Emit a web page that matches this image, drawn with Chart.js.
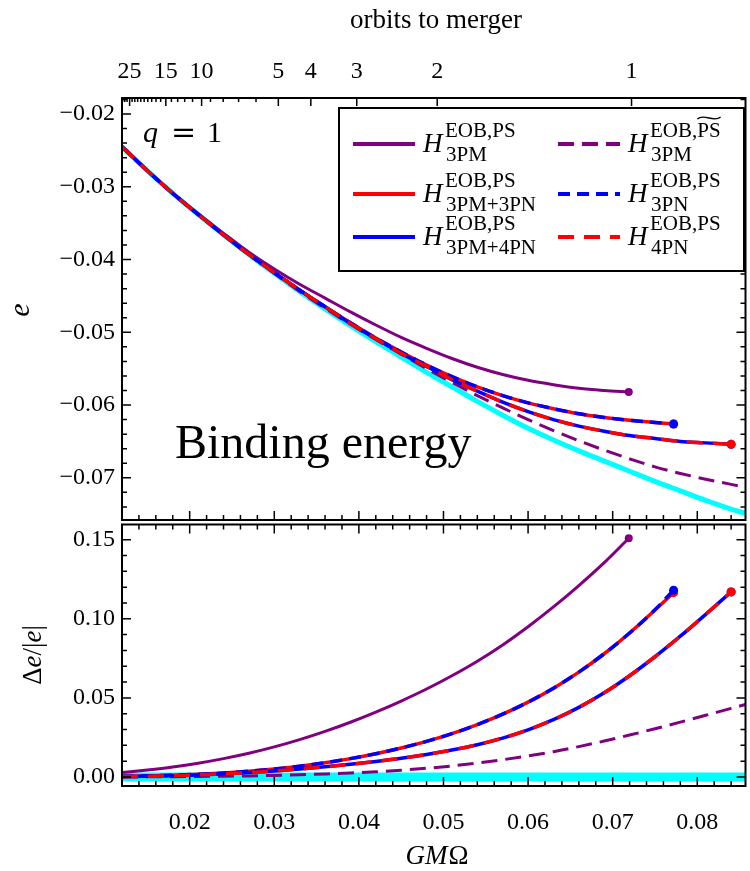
<!DOCTYPE html>
<html>
<head>
<meta charset="utf-8">
<script src="https://cdn.jsdelivr.net/npm/chart.js@4.4.1/dist/chart.umd.min.js"></script>
<style>
  body { margin: 0; background: #fff; }
  #wrap { position: relative; width: 750px; height: 871px; }
  #topChart { position: absolute; left: 0; top: 0; }
  #botChart { position: absolute; left: 0; top: 520px; }
</style>
</head>
<body>
<div id="wrap">
  <canvas id="topChart" width="750" height="540"></canvas>
  <canvas id="botChart" width="750" height="351"></canvas>
</div>
<script>
// GM*Omega sample points for each curve
const omegaFull = [0.012, 0.015, 0.018, 0.021, 0.024, 0.027, 0.030, 0.033, 0.036, 0.039, 0.042, 0.045, 0.048,
  0.051, 0.054, 0.057, 0.060, 0.063, 0.066, 0.069, 0.072, 0.075, 0.078, 0.081, 0.084, 0.0857];
const omega3PM = [0.012, 0.015, 0.018, 0.021, 0.024, 0.027, 0.030, 0.033, 0.036, 0.039, 0.042, 0.045, 0.048,
  0.051, 0.054, 0.057, 0.060, 0.063, 0.066, 0.069, 0.0719];
const omega3PN = [0.012, 0.015, 0.018, 0.021, 0.024, 0.027, 0.030, 0.033, 0.036, 0.039, 0.042, 0.045, 0.048,
  0.051, 0.054, 0.057, 0.060, 0.063, 0.066, 0.069, 0.072, 0.075, 0.0772];
const omega4PN = [0.012, 0.015, 0.018, 0.021, 0.024, 0.027, 0.030, 0.033, 0.036, 0.039, 0.042, 0.045, 0.048,
  0.051, 0.054, 0.057, 0.060, 0.063, 0.066, 0.069, 0.072, 0.075, 0.078, 0.081, 0.084];

// binding energy e (top panel)
const eRef = [-0.0245, -0.0278, -0.0309, -0.0338, -0.0366, -0.0393, -0.0419, -0.0444, -0.0468, -0.0491, -0.0513, -0.0534, -0.0555,
  -0.0575, -0.0595, -0.0614, -0.0632, -0.0648, -0.0663, -0.0677, -0.0691, -0.0705, -0.0718, -0.0731, -0.0743, -0.0749];
const e3PMtilde = [-0.0245, -0.0278, -0.0309, -0.0338, -0.0366, -0.0393, -0.0419, -0.0444, -0.0467, -0.0489, -0.0510, -0.0530, -0.0550,
  -0.0569, -0.0587, -0.0604, -0.0620, -0.0635, -0.0649, -0.0662, -0.0674, -0.0685, -0.0694, -0.0702, -0.0709, -0.0713];
const e3PM = [-0.0245, -0.0278, -0.0309, -0.0337, -0.0364, -0.0390, -0.0413, -0.0434, -0.0453, -0.0472, -0.0490, -0.0507, -0.0522,
  -0.0536, -0.0548, -0.0558, -0.0566, -0.0572, -0.0577, -0.0580, -0.0582];
const e3PM3PN = [-0.0245, -0.0278, -0.0309, -0.0338, -0.0366, -0.0393, -0.0418, -0.0442, -0.0465, -0.0487, -0.0508, -0.0527, -0.0545,
  -0.0561, -0.0575, -0.0587, -0.0597, -0.0605, -0.0612, -0.0617, -0.0621, -0.0624, -0.0626];
const e3PN = [-0.0245, -0.0278, -0.0309, -0.0338, -0.0366, -0.0393, -0.0418, -0.0442, -0.0465, -0.0487, -0.0508, -0.0527, -0.0545,
  -0.0561, -0.0575, -0.0587, -0.0597, -0.0605, -0.0612, -0.0617, -0.0621, -0.0624, -0.0626];
const e3PM4PN = [-0.0245, -0.0278, -0.0309, -0.0338, -0.0366, -0.0393, -0.0418, -0.0442, -0.0465, -0.0488, -0.0509, -0.0529, -0.0547,
  -0.0565, -0.0581, -0.0596, -0.0609, -0.0620, -0.0629, -0.0636, -0.0642, -0.0646, -0.0650, -0.0652, -0.0654];
const e4PN = [-0.0245, -0.0278, -0.0309, -0.0338, -0.0366, -0.0393, -0.0418, -0.0442, -0.0465, -0.0488, -0.0509, -0.0529, -0.0547,
  -0.0565, -0.0581, -0.0596, -0.0609, -0.0620, -0.0629, -0.0636, -0.0642, -0.0646, -0.0650, -0.0652, -0.0654];

// relative difference de/|e| (bottom panel)
const dRef = [0, 0, 0, 0, 0, 0, 0, 0, 0, 0, 0, 0, 0, 0, 0, 0, 0, 0, 0, 0, 0, 0, 0, 0, 0, 0];
const d3PMtilde = [0.0000, 0.0001, 0.0002, 0.0003, 0.0005, 0.0007, 0.0010, 0.0014, 0.0019, 0.0025, 0.0033, 0.0043, 0.0055,
  0.0070, 0.0088, 0.0109, 0.0133, 0.0160, 0.0192, 0.0227, 0.0265, 0.0305, 0.0347, 0.0390, 0.0434, 0.0458];
const d3PM = [0.0028, 0.0044, 0.0063, 0.0087, 0.0116, 0.0150, 0.0190, 0.0236, 0.0288, 0.0346, 0.0410, 0.0480, 0.0556,
  0.0640, 0.0732, 0.0835, 0.0950, 0.1075, 0.1210, 0.1355, 0.1509];
const d3PM3PN = [0.0004, 0.0007, 0.0011, 0.0017, 0.0025, 0.0036, 0.0050, 0.0068, 0.0090, 0.0116, 0.0147, 0.0183, 0.0225,
  0.0274, 0.0331, 0.0397, 0.0473, 0.0561, 0.0663, 0.0779, 0.0910, 0.1055, 0.1165];
const d3PN = [0.0004, 0.0007, 0.0011, 0.0017, 0.0025, 0.0036, 0.0050, 0.0068, 0.0090, 0.0116, 0.0147, 0.0183, 0.0225,
  0.0274, 0.0331, 0.0397, 0.0473, 0.0561, 0.0663, 0.0779, 0.0910, 0.1057, 0.1181];
const d3PM4PN = [0.0002, 0.0004, 0.0008, 0.0013, 0.0020, 0.0028, 0.0038, 0.0050, 0.0064, 0.0080, 0.0098, 0.0118, 0.0142,
  0.0170, 0.0204, 0.0246, 0.0298, 0.0362, 0.0440, 0.0532, 0.0640, 0.0760, 0.0890, 0.1028, 0.1170];
const d4PN = [0.0002, 0.0004, 0.0008, 0.0013, 0.0020, 0.0028, 0.0038, 0.0050, 0.0064, 0.0080, 0.0098, 0.0118, 0.0142,
  0.0170, 0.0204, 0.0246, 0.0298, 0.0362, 0.0440, 0.0532, 0.0640, 0.0760, 0.0890, 0.1028, 0.1170];

// axis ticks
const xTickVals = [0.02, 0.03, 0.04, 0.05, 0.06, 0.07, 0.08];
const yTopTicks = [-0.07, -0.06, -0.05, -0.04, -0.03, -0.02];
const yBotTicks = [0.00, 0.05, 0.10, 0.15];
const orbitLabels = ['25', '15', '10', '5', '4', '3', '2', '1'];
const orbitTicks = [0.0129, 0.01718, 0.02141, 0.03048, 0.03432, 0.03975, 0.04926, 0.07223];
const orbitMinor = [0.01207, 0.01233, 0.0126, 0.01319, 0.01351, 0.01385, 0.01422, 0.01462, 0.01505, 0.01551,
  0.01602, 0.01657, 0.01784, 0.01858, 0.01941, 0.02034, 0.02246, 0.02396, 0.02578, 0.02784];

// legend text
const legendSup = ['EOB,PS', 'EOB,PS', 'EOB,PS', 'EOB,PS', 'EOB,PS', 'EOB,PS'];
const legendSub = ['3PM', '3PM+3PN', '3PM+4PN', '3PM', '3PN', '4PN'];

const X_MIN = 0.012, X_MAX = 0.0857;
const FONT = '"Liberation Serif", "Times New Roman", serif';
const PURPLE = '#800080', RED = '#ff0000', BLUE = '#0000ff', CYAN = '#00ffff';

function pts(xs, ys) { return xs.map((x, i) => ({ x: x, y: ys[i] })); }
function endDot(r) { return c => (c.dataIndex === c.dataset.data.length - 1 ? r : 0); }
function fmt(v) { return (v < 0 ? '\u2212' : '') + Math.abs(v).toFixed(2); }

function makeDatasets(top) {
  const wRef = top ? 5 : 9;
  return [
    { data: pts(omega4PN, top ? e4PN : d4PN), borderColor: RED, borderDash: [16, 10], borderWidth: 3.5,
      pointRadius: endDot(4.5), order: 0, legendCol: 1, legendRow: 2, legendIdx: 5 },
    { data: pts(omega4PN, top ? e3PM4PN : d3PM4PN), borderColor: BLUE, borderWidth: 3.5,
      pointRadius: endDot(4.5), order: 1, legendCol: 0, legendRow: 2, legendIdx: 2 },
    { data: pts(omega3PN, top ? e3PN : d3PN), borderColor: BLUE, borderDash: [12, 7], borderWidth: 3.5,
      pointRadius: endDot(4.5), order: 2, legendCol: 1, legendRow: 1, legendIdx: 4 },
    { data: pts(omega3PN, top ? e3PM3PN : d3PM3PN), borderColor: RED, borderWidth: 3.5,
      pointRadius: endDot(4.5), order: 3, legendCol: 0, legendRow: 1, legendIdx: 1 },
    { data: pts(omega3PM, top ? e3PM : d3PM), borderColor: PURPLE, borderWidth: 3,
      pointRadius: endDot(4), order: 4, legendCol: 0, legendRow: 0, legendIdx: 0 },
    { data: pts(omegaFull, top ? e3PMtilde : d3PMtilde), borderColor: PURPLE, borderDash: [16, 8], borderWidth: 3,
      pointRadius: 0, order: 5, legendCol: 1, legendRow: 0, legendIdx: 3, tilde: true },
    { data: pts(omegaFull, top ? eRef : dRef), borderColor: CYAN, borderWidth: wRef,
      pointRadius: 0, order: 6 }
  ].map(ds => Object.assign(ds, {
    pointBackgroundColor: ds.borderColor, pointBorderWidth: 0, fill: false,
    cubicInterpolationMode: 'monotone'
  }));
}

// frame and inward ticks, Mathematica style
const framePlugin = {
  id: 'frame',
  afterDatasetsDraw(chart, args, o) {
    const { ctx, chartArea: a, scales } = chart;
    const xs = scales.x, ys = scales.y;
    ctx.save();
    ctx.strokeStyle = '#000';
    ctx.lineWidth = 1.5;
    ctx.beginPath();
    for (let k = 6; k <= 42; k++) {
      const px = xs.getPixelForValue(k * 0.002);
      const len = k % 5 === 0 ? 9 : 5;
      ctx.moveTo(px, a.bottom); ctx.lineTo(px, a.bottom - len);
      if (o.xTop) { ctx.moveTo(px, a.top); ctx.lineTo(px, a.top + len); }
    }
    for (let k = o.kFrom; k <= o.kTo; k++) {
      const py = ys.getPixelForValue(k * o.step);
      const len = k % 5 === 0 ? 9 : 5;
      ctx.moveTo(a.left, py); ctx.lineTo(a.left + len, py);
      ctx.moveTo(a.right, py); ctx.lineTo(a.right - len, py);
    }
    if (o.orbits) {
      orbitTicks.forEach(v => { const px = xs.getPixelForValue(v); ctx.moveTo(px, a.top); ctx.lineTo(px, a.top + 8); });
      orbitMinor.forEach(v => { const px = xs.getPixelForValue(v); ctx.moveTo(px, a.top); ctx.lineTo(px, a.top + 4); });
    }
    ctx.stroke();
    ctx.lineWidth = 2;
    ctx.strokeRect(a.left, a.top, a.right - a.left, a.bottom - a.top);
    ctx.restore();
  }
};

function drawParts(ctx, parts, x, y) {
  let cx = x;
  parts.forEach(p => {
    ctx.font = p.f;
    ctx.fillText(p.t, cx, y);
    cx += ctx.measureText(p.t).width + (p.gap || 0);
  });
}
function partsWidth(ctx, parts) {
  let w = 0;
  parts.forEach(p => { ctx.font = p.f; w += ctx.measureText(p.t).width + (p.gap || 0); });
  return w;
}
function drawRotated(ctx, parts, cx, cy) {
  ctx.save();
  ctx.translate(cx, cy);
  ctx.rotate(-Math.PI / 2);
  ctx.textBaseline = 'middle';
  drawParts(ctx, parts, -partsWidth(ctx, parts) / 2, 0);
  ctx.restore();
}

function drawLegend(chart) {
  const ctx = chart.ctx;
  const rows = [152, 202, 245];
  ctx.save();
  ctx.fillStyle = '#fff';
  ctx.fillRect(339, 108, 405, 163);
  ctx.strokeStyle = '#000';
  ctx.lineWidth = 2;
  ctx.strokeRect(339, 108, 405, 163);
  chart.data.datasets.forEach(ds => {
    if (ds.legendCol === undefined) return;
    const lx = ds.legendCol === 0 ? 353 : 558;
    const tx = ds.legendCol === 0 ? 423 : 628;
    const base = rows[ds.legendRow];
    ctx.beginPath();
    ctx.strokeStyle = ds.borderColor;
    ctx.lineWidth = 4;
    ctx.setLineDash(ds.borderDash || []);
    ctx.moveTo(lx, base - 8); ctx.lineTo(lx + 62, base - 8);
    ctx.stroke();
    ctx.setLineDash([]);
    ctx.fillStyle = '#000';
    ctx.textBaseline = 'alphabetic';
    ctx.font = 'italic 27px ' + FONT;
    ctx.fillText('H', tx, base);
    ctx.font = '21px ' + FONT;
    const sup = legendSup[ds.legendIdx];
    ctx.fillText(sup, tx + 22, base - 15);
    ctx.fillText(legendSub[ds.legendIdx], tx + 23, base + 9);
    if (ds.tilde) {
      const x0 = tx + 22 + ctx.measureText('EOB,').width;
      const w = ctx.measureText('PS').width;
      const y = base - 35;
      ctx.beginPath();
      ctx.lineWidth = 1.3;
      ctx.strokeStyle = '#000';
      ctx.moveTo(x0, y + 2);
      ctx.bezierCurveTo(x0 + w * 0.3, y - 4, x0 + w * 0.7, y + 6, x0 + w, y);
      ctx.stroke();
    }
  });
  ctx.restore();
}

const topText = {
  id: 'topText',
  afterDraw(chart) {
    const ctx = chart.ctx;
    ctx.save();
    ctx.fillStyle = '#000';
    ctx.textBaseline = 'middle';
    ctx.textAlign = 'center';
    ctx.font = '27px ' + FONT;
    ctx.fillText('orbits to merger', 436, 21);
    ctx.textAlign = 'left';
    ctx.textBaseline = 'alphabetic';
    ctx.font = '48px ' + FONT;
    ctx.fillText('Binding energy', 175, 458);
    ctx.font = 'italic 30px ' + FONT;
    ctx.fillText('q', 143, 142);
    ctx.font = '30px "DejaVu Serif", ' + FONT;
    ctx.fillText('=', 171, 142);
    ctx.font = '30px ' + FONT;
    ctx.fillText('1', 207, 142);
    drawRotated(ctx, [{ t: 'e', f: 'italic 30px ' + FONT }], 21, 310);
    ctx.restore();
    drawLegend(chart);
  }
};

const botText = {
  id: 'botText',
  afterDraw(chart) {
    const ctx = chart.ctx;
    ctx.save();
    ctx.fillStyle = '#000';
    const it = 'italic 27px ' + FONT, up = '27px ' + FONT;
    drawRotated(ctx, [{ t: '\u0394', f: up }, { t: 'e', f: it }, { t: '/|', f: up }, { t: 'e', f: it }, { t: '|', f: up }], 34, 135);
    ctx.textBaseline = 'middle';
    const parts = [{ t: 'G', f: it }, { t: 'M', f: it, gap: 1 }, { t: '\u03A9', f: up }];
    drawParts(ctx, parts, 437 - partsWidth(ctx, parts) / 2, 337);
    ctx.restore();
  }
};

function tickFont() { return { family: FONT, size: 24 }; }
function hiddenGrid() { return { display: false, drawTicks: false }; }
// fixed axis size, no extra room for overhanging labels
function fixSize(w, h) {
  return s => {
    if (w !== null) s.width = w;
    if (h !== null) s.height = h;
    s.paddingLeft = 0; s.paddingRight = 0; s.paddingTop = 0; s.paddingBottom = 0;
  };
}

function initTop() {
  new Chart(document.getElementById('topChart'), {
    type: 'line',
    data: { datasets: makeDatasets(true) },
    options: {
      responsive: false, animation: false, events: [], devicePixelRatio: 1,
      layout: { padding: { left: 0, right: 2, top: 0, bottom: 20 } },
      plugins: { legend: { display: false }, tooltip: { enabled: false },
        frame: { xTop: false, orbits: true, kFrom: -37, kTo: -9, step: 0.002 } },
      scales: {
        x: { type: 'linear', display: false, min: X_MIN, max: X_MAX },
        x2: {
          type: 'linear', position: 'top', min: X_MIN, max: X_MAX,
          grid: hiddenGrid(), border: { display: false },
          afterBuildTicks: s => { s.ticks = orbitTicks.map(v => ({ value: v })); },
          afterFit: fixSize(null, 98),
          ticks: { autoSkip: false, maxRotation: 0, minRotation: 0, padding: 12, color: '#000', font: tickFont(),
            callback: (v, i) => orbitLabels[i] }
        },
        y: {
          type: 'linear', min: -0.0758, max: -0.0178,
          grid: hiddenGrid(), border: { display: false },
          afterBuildTicks: s => { s.ticks = yTopTicks.map(v => ({ value: v })); },
          afterFit: fixSize(122, null),
          ticks: { autoSkip: false, padding: 7, color: '#000', font: tickFont(), callback: v => fmt(v) }
        }
      }
    },
    plugins: [framePlugin, topText]
  });
}

function initBottom() {
  new Chart(document.getElementById('botChart'), {
    type: 'line',
    data: { datasets: makeDatasets(false) },
    options: {
      responsive: false, animation: false, events: [], devicePixelRatio: 1,
      layout: { padding: { left: 0, right: 2, top: 3, bottom: 0 } },
      plugins: { legend: { display: false }, tooltip: { enabled: false },
        frame: { xTop: true, orbits: false, kFrom: 0, kTo: 15, step: 0.01 } },
      scales: {
        x: {
          type: 'linear', min: X_MIN, max: X_MAX,
          grid: hiddenGrid(), border: { display: false },
          afterBuildTicks: s => { s.ticks = xTickVals.map(v => ({ value: v })); },
          afterFit: fixSize(null, 85),
          ticks: { autoSkip: false, maxRotation: 0, minRotation: 0, padding: 22, color: '#000', font: tickFont(),
            callback: v => v.toFixed(2) }
        },
        y: {
          type: 'linear', min: -0.0057, max: 0.1596,
          grid: hiddenGrid(), border: { display: false },
          afterBuildTicks: s => { s.ticks = yBotTicks.map(v => ({ value: v })); },
          afterFit: fixSize(122, null),
          ticks: { autoSkip: false, padding: 7, color: '#000', font: tickFont(), callback: v => fmt(v) }
        }
      }
    },
    plugins: [framePlugin, botText]
  });
}

window.addEventListener('DOMContentLoaded', () => {
  initTop();
  initBottom();
});
</script>
</body>
</html>
